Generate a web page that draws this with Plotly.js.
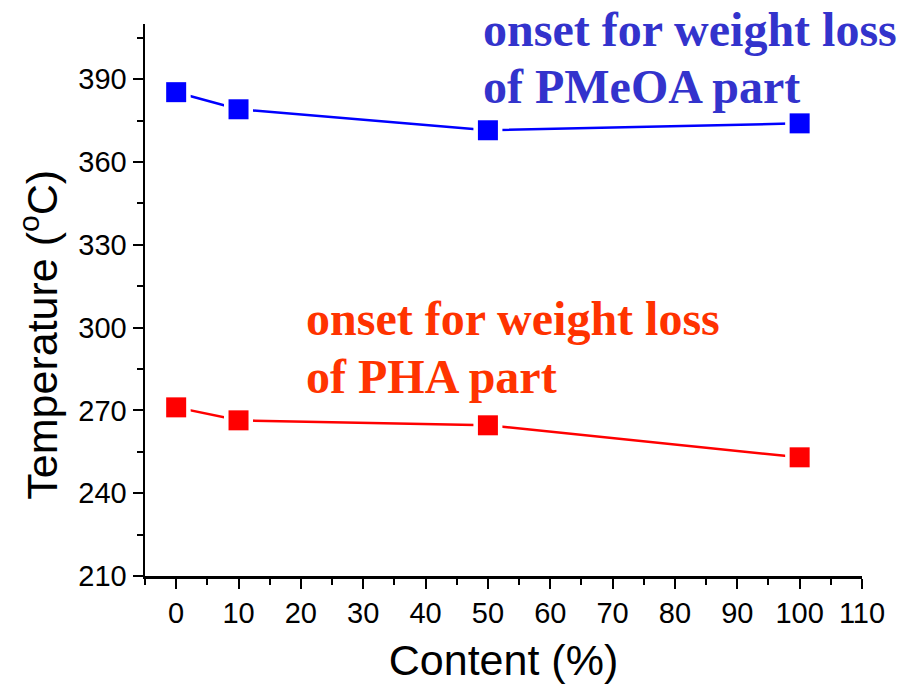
<!DOCTYPE html>
<html>
<head>
<meta charset="utf-8">
<script src="https://cdn.plot.ly/plotly-3.0.1.min.js"></script>
<style>html,body{margin:0;padding:0;background:#fff;}#chart{width:900px;height:684px;}</style>
</head>
<body>
<div id="chart"></div>
<script>
const content = [0, 10, 50, 100];
const pmeoaOnset = [385.3, 379.1, 371.5, 374.0];
const phaOnset = [271.1, 266.4, 264.6, 253.0];
const xTicks = [0, 10, 20, 30, 40, 50, 60, 70, 80, 90, 100, 110];
const yTicks = [210, 240, 270, 300, 330, 360, 390];

function series(y, color) {
  return [
    {x: content, y: y, mode: 'lines', line: {color: color, width: 2.5}, hoverinfo: 'skip', showlegend: false},
    {x: content, y: y, mode: 'markers', marker: {symbol: 'square', size: 29, color: '#ffffff', line: {width: 0}}, hoverinfo: 'skip', showlegend: false},
    {x: content, y: y, mode: 'markers', marker: {symbol: 'square', size: 20, color: color, line: {width: 0}}, showlegend: false}
  ];
}

const data = [].concat(series(pmeoaOnset, '#0000ff'), series(phaOnset, '#ff0000'));

const sans = 'Liberation Sans, Arial, sans-serif';
const serif = 'Liberation Serif, Times New Roman, serif';
const axisFont = {family: sans, size: 29, color: '#000'};

function label(text, x, y, color) {
  return {xref: 'paper', yref: 'paper', x: x, y: y, xanchor: 'left', yanchor: 'middle', align: 'left',
          text: '<b>' + text + '</b>', showarrow: false, font: {family: serif, size: 48, color: color}};
}

const layout = {
  width: 900, height: 684,
  margin: {l: 145, r: 38, t: 24, b: 108},
  paper_bgcolor: '#fff', plot_bgcolor: '#fff',
  showlegend: false,
  xaxis: {
    range: [-5, 110], tickvals: xTicks, ticktext: xTicks.map(String),
    ticks: 'outside', ticklen: 10, tickwidth: 2, tickcolor: '#000',
    minor: {dtick: 5, tick0: 0, ticks: 'outside', ticklen: 6, tickwidth: 2, tickcolor: '#000', showgrid: false},
    showline: true, linecolor: '#000', linewidth: 2.5, showgrid: false, zeroline: false,
    tickfont: axisFont,
    title: {text: 'Content (%)', font: {family: sans, size: 43, color: '#000'}, standoff: 18}
  },
  yaxis: {
    range: [210, 410], tickvals: yTicks, ticktext: yTicks.map(String),
    ticks: 'outside', ticklen: 10, tickwidth: 2, tickcolor: '#000',
    minor: {dtick: 15, tick0: 210, ticks: 'outside', ticklen: 6, tickwidth: 2, tickcolor: '#000', showgrid: false},
    showline: true, linecolor: '#000', linewidth: 2.5, showgrid: false, zeroline: false,
    tickfont: axisFont
  },
  annotations: [
    {xref: 'paper', yref: 'paper', x: -0.148, y: 0.437, xanchor: 'center', yanchor: 'middle', textangle: -90,
     text: 'Temperature (<sup>o</sup>C)', showarrow: false,
     font: {family: sans, size: 43, color: '#000'}},
    label('onset for weight loss', 0.468, 0.99, '#3333cc'),
    label('of PMeOA part', 0.468, 0.887, '#3333cc'),
    label('onset for weight loss', 0.222, 0.4656, '#ff3300'),
    label('of PHA part', 0.222, 0.3623, '#ff3300')
  ]
};

Plotly.newPlot('chart', data, layout, {staticPlot: true, displayModeBar: false});
</script>
</body>
</html>
